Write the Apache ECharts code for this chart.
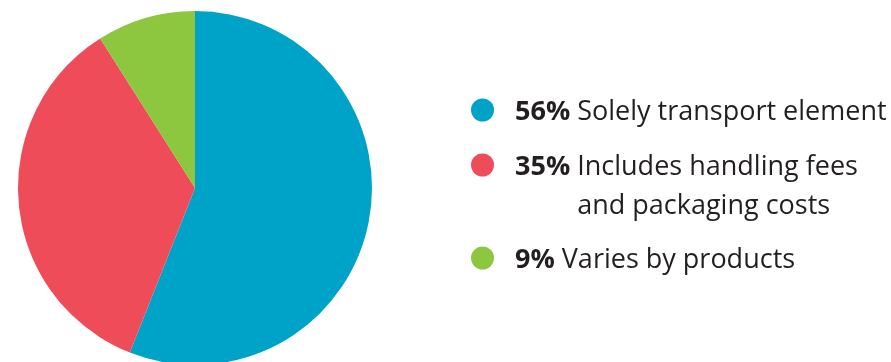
<!DOCTYPE html>
<html>
<head>
<meta charset="utf-8">
<script src="https://cdn.jsdelivr.net/npm/echarts@6/dist/echarts.min.js"></script>
<style>
  html, body { margin: 0; padding: 0; background: #fff; }
  #chart { width: 891px; height: 362px; }
</style>
</head>
<body>
<div id="chart"></div>
<script>
// Share of delivery charge composition
const categories = ['Solely transport element', 'Includes handling fees and packaging costs', 'Varies by products'];
const shares = [56, 35, 9];
const colors = ['#00a3c8', '#ef4c59', '#8dc63f'];
// Legend wording: first line, optional continuation line
const legendLines = [
  ['Solely transport element'],
  ['Includes handling fees', 'and packaging costs'],
  ['Varies by products']
];

const FONT = '"Open Sans"';
const SIZE = 27;
const LINE_H = 39;
const TEXT_DROP = 4;
const iconCenters = [110, 165, 258];

// width of the bold percentage plus the following space, used to indent wrapped lines
const ctx = document.createElement('canvas').getContext('2d');
function indentFor(pct) {
  ctx.font = 'bold ' + SIZE + 'px ' + FONT;
  const w1 = ctx.measureText(pct + '%').width;
  ctx.font = SIZE + 'px ' + FONT;
  return w1 + ctx.measureText(' ').width;
}

const chart = echarts.init(document.getElementById('chart'));

const legends = categories.map((name, i) => {
  const lines = legendLines[i];
  const extra = (lines.length - 1) * LINE_H + TEXT_DROP;
  // text block is centred on the icon, so pad the top to keep line 1 level with it
  const blockH = LINE_H * lines.length + extra;
  return {
    data: [name],
    orient: 'vertical',
    left: 471,
    top: iconCenters[i] - blockH / 2,
    padding: 0,
    icon: 'circle',
    itemWidth: 23,
    itemHeight: 23,
    selectedMode: false,
    textStyle: {
      padding: [extra, 0, 0, 16],
      fontFamily: FONT,
      fontSize: SIZE,
      color: '#231f20',
      lineHeight: LINE_H,
      rich: {
        b: { fontFamily: FONT, fontWeight: 'bold', fontSize: SIZE, color: '#231f20', lineHeight: LINE_H },
        t: { fontFamily: FONT, fontSize: SIZE, color: '#231f20', lineHeight: LINE_H },
        pad: { width: indentFor(shares[i]), lineHeight: LINE_H }
      }
    },
    formatter: () => {
      let s = '{b|' + shares[i] + '%}{t| ' + lines[0] + '}';
      for (let k = 1; k < lines.length; k++) s += '\n{pad| }{t|' + lines[k] + '}';
      return s;
    }
  };
});

chart.setOption({
  animation: false,
  color: colors,
  legend: legends,
  series: [{
    type: 'pie',
    center: [195, 188],
    radius: 177,
    startAngle: 90,
    clockwise: true,
    label: { show: false },
    labelLine: { show: false },
    silent: true,
    itemStyle: { borderWidth: 0 },
    data: categories.map((name, i) => ({ name, value: shares[i] }))
  }]
});
</script>
</body>
</html>
